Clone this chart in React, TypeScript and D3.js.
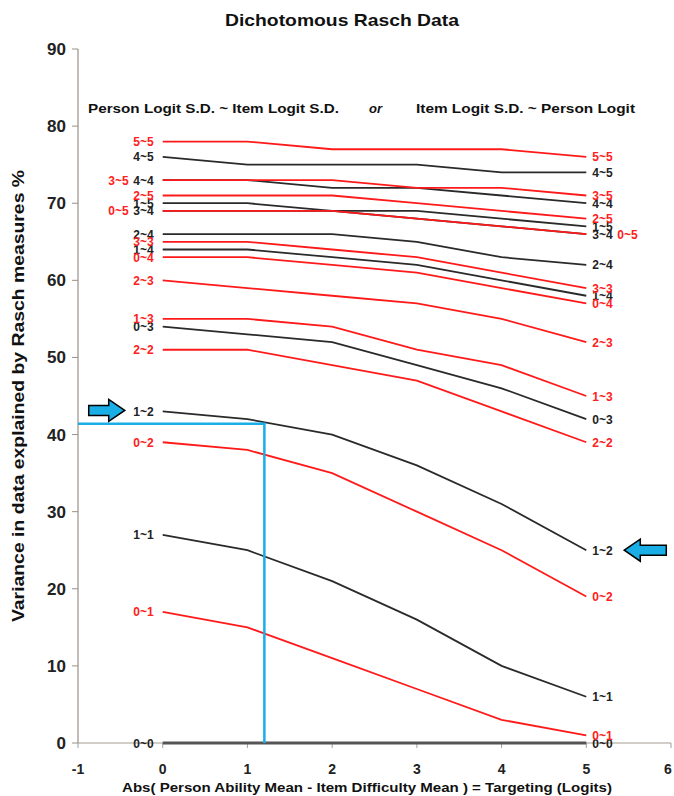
import { useEffect, useRef } from 'react';
import * as d3 from 'd3';

// Targeting (logits) at which each curve was simulated
const targeting = [0, 1, 2, 3, 4, 5];

// Red curves
const redLabels = ['5~5', '3~5', '2~5', '0~5', '3~3', '0~4', '2~3', '1~3', '2~2', '0~2', '0~1'];
const redValues = [
    [78, 78, 77, 77, 77, 76],
    [73, 73, 73, 72, 72, 71],
    [71, 71, 71, 70, 69, 68],
    [69, 69, 69, 68, 67, 66],
    [65, 65, 64, 63, 61, 59],
    [63, 63, 62, 61, 59, 57],
    [60, 59, 58, 57, 55, 52],
    [55, 55, 54, 51, 49, 45],
    [51, 51, 49, 47, 43, 39],
    [39, 38, 35, 30, 25, 19],
    [17, 15, 11, 7, 3, 1],
];

// Black curves
const blackLabels = ['4~5', '4~4', '1~5', '3~4', '2~4', '1~4', '0~3', '1~2', '1~1', '0~0'];
const blackValues = [
    [76, 75, 75, 75, 74, 74],
    [73, 73, 72, 72, 71, 70],
    [70, 70, 69, 69, 68, 67],
    [69, 69, 69, 68, 67, 66],
    [66, 66, 66, 65, 63, 62],
    [64, 64, 63, 62, 60, 58],
    [54, 53, 52, 49, 46, 42],
    [43, 42, 40, 36, 31, 25],
    [27, 25, 21, 16, 10, 6],
    [0, 0, 0, 0, 0, 0],
];

const xTicks = [-1, 0, 1, 2, 3, 4, 5, 6];
const yTicks = [0, 10, 20, 30, 40, 50, 60, 70, 80, 90];

// Blue reading guide (targeting 1.2 -> 41.4 %)
const guideX = 1.2;
const guideY = 41.4;

export default function App() {
    const svgRef = useRef<SVGSVGElement>(null);

    useEffect(() => {
        const width = 674;
        const height = 796;
        const font = 'Arial, "Liberation Sans", sans-serif';
        const RED = '#ff1a1a';
        const BLACK = '#2a2a2a';
        const BLUE = '#19aee6';

        d3.select(svgRef.current).selectAll('*').remove();

        const svg = d3
            .select(svgRef.current)
            .attr('width', width)
            .attr('height', height)
            .style('font-family', font);

        const x = d3.scaleLinear().domain([-1, 6]).range([78, 671]);
        const y = d3.scaleLinear().domain([0, 90]).range([743, 49]);

        // Title + subtitle
        svg.append('text')
            .attr('x', 342)
            .attr('y', 26)
            .attr('text-anchor', 'middle')
            .attr('textLength', 234)
            .attr('lengthAdjust', 'spacingAndGlyphs')
            .style('font-size', '17px')
            .style('font-weight', 'bold')
            .style('fill', '#111')
            .text('Dichotomous Rasch Data');

        const sub = svg.append('g').style('font-size', '13px').style('font-weight', 'bold').style('fill', '#111');
        sub.append('text').attr('x', 88).attr('y', 113)
            .attr('textLength', 251).attr('lengthAdjust', 'spacingAndGlyphs')
            .text('Person Logit S.D. ~ Item Logit S.D.');
        sub.append('text').attr('x', 369).attr('y', 113).style('font-style', 'italic').text('or');
        sub.append('text').attr('x', 416).attr('y', 113)
            .attr('textLength', 219).attr('lengthAdjust', 'spacingAndGlyphs')
            .text('Item Logit S.D. ~ Person Logit');

        // X axis: light base line, ticks and labels
        svg.append('line')
            .attr('x1', x(-1)).attr('x2', x(6))
            .attr('y1', y(0)).attr('y2', y(0))
            .attr('stroke', '#c4bcb4').attr('stroke-width', 1.5);

        svg.selectAll('.xtick')
            .data(xTicks)
            .enter()
            .append('line')
            .attr('x1', (d) => x(d)).attr('x2', (d) => x(d))
            .attr('y1', y(0)).attr('y2', y(0) + 5)
            .attr('stroke', '#9aa0b0').attr('stroke-width', 1);

        svg.selectAll('.xlab')
            .data(xTicks)
            .enter()
            .append('text')
            .attr('x', (d) => x(d) - (d === 6 ? 3 : 0))
            .attr('y', y(0) + 31)
            .attr('text-anchor', 'middle')
            .style('font-size', '14px')
            .style('font-weight', 'bold')
            .style('fill', '#222')
            .text((d) => d);

        svg.append('text')
            .attr('x', 367)
            .attr('y', 792)
            .attr('text-anchor', 'middle')
            .attr('textLength', 490)
            .attr('lengthAdjust', 'spacingAndGlyphs')
            .style('font-size', '13.5px')
            .style('font-weight', 'bold')
            .style('fill', '#111')
            .text('Abs( Person Ability Mean - Item Difficulty Mean ) = Targeting (Logits)');

        // Y axis
        svg.append('line')
            .attr('x1', x(-1)).attr('x2', x(-1))
            .attr('y1', y(90)).attr('y2', y(0))
            .attr('stroke', '#9a9088').attr('stroke-width', 1.2);

        svg.selectAll('.ytick')
            .data(yTicks)
            .enter()
            .append('line')
            .attr('x1', x(-1) - 6).attr('x2', x(-1))
            .attr('y1', (d) => y(d)).attr('y2', (d) => y(d))
            .attr('stroke', '#9a9088').attr('stroke-width', 1);

        svg.selectAll('.ylab')
            .data(yTicks)
            .enter()
            .append('text')
            .attr('x', x(-1) - 12)
            .attr('y', (d) => y(d) + 6)
            .attr('text-anchor', 'end')
            .style('font-size', '17px')
            .style('font-weight', 'bold')
            .style('fill', '#222')
            .text((d) => d);

        svg.append('text')
            .attr('transform', `translate(24,${396}) rotate(-90)`)
            .attr('text-anchor', 'middle')
            .attr('textLength', 452)
            .attr('lengthAdjust', 'spacingAndGlyphs')
            .style('font-size', '16px')
            .style('font-weight', 'bold')
            .style('fill', '#111')
            .text('Variance in data explained by Rasch measures %');

        // Curves
        const line = d3
            .line<number>()
            .x((_, i) => x(targeting[i]))
            .y((d) => y(d));

        const curves = [
            ...blackLabels.map((label, i) => ({ label, values: blackValues[i], color: BLACK, labelColor: '#222' })),
            ...redLabels.map((label, i) => ({ label, values: redValues[i], color: RED, labelColor: '#ff2020' })),
        ];

        const zero = curves.find((c) => c.label === '0~0');
        svg.append('path')
            .attr('d', line(zero!.values))
            .attr('fill', 'none')
            .attr('stroke', '#555')
            .attr('stroke-width', 3);

        svg.selectAll('.curve')
            .data(curves.filter((c) => c.label !== '0~0'))
            .enter()
            .append('path')
            .attr('class', 'curve')
            .attr('d', (d) => line(d.values))
            .attr('fill', 'none')
            .attr('stroke', (d) => d.color)
            .attr('stroke-width', 1.8);

        // Labels that would collide are pushed sideways
        const leftShift: Record<string, number> = { '3~5': -25, '0~5': -25 };
        const rightShift: Record<string, number> = { '0~5': 25 };

        const labels = svg.append('g').style('font-size', '12px').style('font-weight', 'bold');

        labels.selectAll('.llab')
            .data(curves)
            .enter()
            .append('text')
            .attr('x', (d) => x(0) - 9 + (leftShift[d.label] || 0))
            .attr('y', (d) => y(d.values[0]) + 4.5)
            .attr('text-anchor', 'end')
            .style('fill', (d) => d.labelColor)
            .text((d) => d.label);

        labels.selectAll('.rlab')
            .data(curves)
            .enter()
            .append('text')
            .attr('x', (d) => x(5) + 6 + (rightShift[d.label] || 0))
            .attr('y', (d) => y(d.values[5]) + 4.5)
            .attr('text-anchor', 'start')
            .style('fill', (d) => d.labelColor)
            .text((d) => d.label);

        // Blue guide lines
        svg.append('path')
            .attr('d', `M${x(-1)},${y(guideY)} H${x(guideX)} V${y(0)}`)
            .attr('fill', 'none')
            .attr('stroke', BLUE)
            .attr('stroke-width', 2.5);

        // Arrows pointing at the 1~2 curve
        const arrow = (tip: number, cy: number, dir: number, body: number) => {
            const head = 16;
            const hh = 11;
            const bh = 5;
            const b = tip - dir * head;
            const e = b - dir * body;
            return `M${tip},${cy} L${b},${cy - hh} L${b},${cy - bh} L${e},${cy - bh} L${e},${cy + bh} L${b},${cy + bh} L${b},${cy + hh} Z`;
        };
        const oneTwo = blackValues[blackLabels.indexOf('1~2')];
        svg.append('path')
            .attr('d', arrow(x(0) - 38, y(oneTwo[0]) - 1, 1, 20))
            .attr('fill', BLUE)
            .attr('stroke', '#000')
            .attr('stroke-width', 1.5);
        svg.append('path')
            .attr('d', arrow(x(5) + 38, y(oneTwo[5]), -1, 26))
            .attr('fill', BLUE)
            .attr('stroke', '#000')
            .attr('stroke-width', 1.5);
    }, []);

    return <svg ref={svgRef} style={{ position: 'absolute', left: 0, top: 0, background: '#fff' }}></svg>;
}
